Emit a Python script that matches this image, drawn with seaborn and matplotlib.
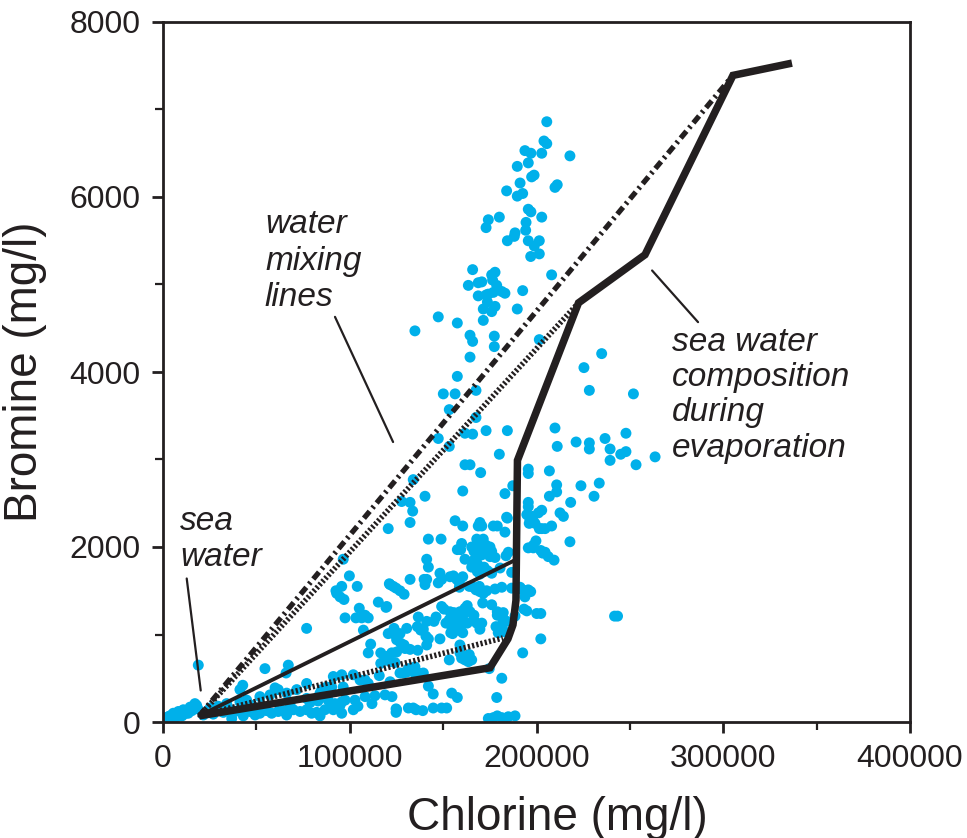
import matplotlib
matplotlib.use("Agg")
import matplotlib.pyplot as plt
import numpy as np
import pandas as pd
import seaborn as sns
from matplotlib.ticker import MultipleLocator

# ---------------- data (Cl, Br in mg/l) ----------------
upper_cl = [205500, 204000, 205500, 193800, 197000, 202800, 217900, 189700, 195600, 197400,
            198700, 191200, 184000, 209900, 211100, 189700, 192600, 195600, 197000, 202800,
            174200, 180100, 173000, 194400, 194200, 188500, 188100, 184400, 195600, 201500,
            198800, 196900, 201500, 208100, 165800, 163500, 168800, 170700, 176000, 177800,
            178700, 176500, 181400, 183100, 174200, 176900, 168800, 173000, 192600, 173700,
            171500, 176000, 177800, 189700]
upper_br = [6860, 6640, 6610, 6530, 6500, 6500, 6470, 6350, 6390, 6230,
            6250, 6160, 6070, 6110, 6140, 6010, 6040, 5860, 5830, 5770,
            5740, 5770, 5650, 5710, 5620, 5590, 5550, 5500, 5500, 5500,
            5440, 5320, 5350, 5110, 5170, 4990, 5020, 5030, 5110, 5140,
            4990, 5050, 4920, 4900, 4890, 4910, 4870, 4880, 4930, 4800,
            4720, 4690, 4750, 4720]

mid_cl = [147400, 157600, 134900, 171500, 164400, 165800, 177400, 177400, 201500, 164400,
          157600, 150100, 156400, 167600, 153300, 167600, 147400, 153300, 161700, 165800,
          173000, 184400, 180100, 161700, 164400, 170100, 160500, 140300, 134000, 183100,
          187300, 195600, 195600, 206900, 209900, 211100, 221200, 228300, 228300, 225400,
          228300, 234900, 251900, 236700, 247900, 239400, 239400, 245100, 247900, 253300,
          263500, 210800, 210800, 223800, 233600, 230800, 218300, 206900, 195600, 195600]
mid_br = [4630, 4560, 4470, 4590, 4420, 4350, 4410, 4290, 4370, 4170,
          3950, 3750, 3750, 3790, 3570, 3480, 3240, 3150, 3300, 3290,
          3330, 3330, 3060, 2940, 2940, 2850, 2640, 2580, 2770, 2610,
          2700, 2890, 2840, 2870, 3360, 3150, 3200, 3190, 3120, 4050,
          3790, 4210, 3750, 3240, 3300, 3120, 2990, 3060, 3090, 2940,
          3030, 2710, 2630, 2700, 2730, 2580, 2510, 2580, 2510, 2460]

dense_a_cl = [202800, 184400, 194800, 196500, 198300, 212600, 214400, 208100, 202800, 204600,
              199700, 217900, 169700, 176900, 179000, 183100, 171500, 175100, 195600, 198300,
              203300, 206300, 209400, 241800, 243400, 202300, 202300, 127800, 132300, 133700,
              132300, 156400, 160500, 120600, 142100, 148900, 168800, 170700, 184000, 198000,
              201000, 196100, 199200, 201500, 198300, 202300, 204600, 159900, 159400, 157600]
dense_a_br = [2420, 2330, 2370, 2310, 2290, 2390, 2350, 2240, 2210, 2210,
              2070, 2060, 2280, 2240, 2240, 2170, 2090, 2000, 1990, 1990,
              1930, 1890, 1850, 1210, 1210, 1240, 950, 2520, 2510, 2410,
              2280, 2300, 2240, 2210, 2090, 2090, 2240, 2240, 2340, 2350,
              2390, 2270, 2270, 2210, 2020, 1960, 1940, 2040, 1970, 1970]

dense_b_cl = [161700, 141200, 142100, 141200, 148300, 149200, 155500, 157300, 160500, 165300,
              166500, 168000, 169700, 173000, 174200, 176000, 177800, 175100, 169400, 170700,
              166500, 168300, 170100, 168300, 169700, 165300, 171900, 173700, 176000, 180500,
              183700, 184900, 186700, 121200, 123300, 124800, 126900, 129100, 119400, 132300,
              139800, 140300, 147400, 153700, 158700, 158700, 164000, 166200, 167600, 169400]
dense_b_br = [1860, 1860, 1770, 1630, 1700, 1630, 1670, 1630, 1660, 2000,
              1950, 2090, 2020, 2020, 1970, 1950, 1880, 1890, 1960, 1910,
              1850, 1810, 1770, 1720, 1690, 1770, 1770, 1730, 1700, 1760,
              1900, 1940, 1710, 1580, 1550, 1530, 1500, 1460, 1310, 1630,
              1630, 1570, 1590, 1660, 1590, 1540, 1550, 1540, 1510, 1550]

dense_c_cl = [169700, 171500, 173300, 177800, 181400, 186700, 191200, 192600, 195600, 193800,
              196900, 193300, 194800, 200100, 188500, 171200, 176000, 179000, 182200, 179000,
              181400, 182600, 184000, 181400, 178300, 179500, 183100, 149200, 150500, 153700,
              155800, 159000, 157300, 160500, 161700, 162900, 164400, 166500, 166200, 168000,
              170700, 169700, 162900, 160500, 159000, 157600, 156400, 153300, 151500, 154600]
dense_c_br = [1490, 1470, 1500, 1520, 1540, 1530, 1540, 1510, 1510, 1430,
              1490, 1290, 1270, 1240, 1210, 1360, 1340, 1260, 1250, 1220,
              1200, 1170, 1150, 1110, 1090, 1020, 1030, 1320, 1290, 1260,
              1250, 1260, 1210, 1210, 1300, 1330, 1260, 1220, 1170, 1130,
              1130, 1060, 1130, 1130, 1070, 1050, 1110, 1170, 1130, 1090]

dense_d_cl = [160500, 154100, 155100, 146200, 145100, 141200, 139400, 138000, 136700, 136200,
              140800, 142100, 141200, 148300, 120600, 123300, 125500, 123700, 125100, 127300,
              129100, 122500, 125100, 129600, 132300, 116600, 116600, 121600, 124200, 128700,
              134000, 136700, 139400, 132300, 159000, 159000, 159900, 161700, 163500, 165300,
              164000, 153300, 142100, 144700, 154600, 157600, 174700, 181400, 178700, 192600]
dense_d_br = [1020, 1020, 1010, 1200, 1150, 1150, 1060, 1050, 1200, 1090,
              980, 950, 880, 950, 1010, 1010, 1010, 1070, 940, 900,
              880, 790, 800, 840, 830, 790, 670, 690, 680, 560,
              575, 560, 560, 600, 880, 790, 730, 710, 690, 710,
              770, 710, 410, 320, 330, 280, 610, 500, 280, 790]

bottom_cl = [124800, 124800, 131400, 134000, 135500, 139100, 144700, 149200, 151900, 174200,
             176900, 179000, 181400, 182600, 184900, 188500, 101900, 95700, 84100, 125100]
bottom_br = [150, 110, 160, 160, 140, 130, 160, 160, 160, 40,
             50, 70, 50, 20, 60, 70, 140, 100, 70, 140]

left_cl = [99800, 95700, 92600, 94800, 96900, 104000, 115300, 105100, 108200, 109900,
           106400, 103300, 97500, 107300, 76900, 130500, 126900, 111200, 119800, 109900,
           126900, 130500, 134900, 134900, 136400, 105500, 18900, 54600, 67100, 65900,
           42700, 41200, 60000, 71600, 91200, 95700, 101900, 96500, 90300, 84100,
           76900, 108200, 109900, 115800, 121600, 131400, 96500, 93000, 119800, 121600]
left_br = [1670, 1550, 1500, 1430, 1400, 1550, 1370, 1300, 1220, 1190,
           1190, 1190, 1190, 1050, 1070, 1070, 1010, 890, 750, 790,
           560, 570, 630, 560, 820, 480, 650, 610, 650, 560,
           420, 370, 390, 370, 520, 540, 540, 400, 400, 330,
           270, 480, 440, 530, 460, 610, 1860, 1470, 1320, 1570]

seawater_cl = [200, 2800, 3700, 5500, 8200, 9100, 10900, 13500, 14500, 16200,
               17100, 18000, 1100, 2100, 4800, 7500, 10200, 12300, 15500, 18700]
seawater_br = [40, 60, 70, 100, 120, 80, 140, 100, 170, 170,
               210, 190, 20, 50, 30, 60, 70, 100, 130, 150]

band_cl = [21600, 26900, 32300, 36800, 38600, 43000, 46600, 49300, 51900, 55500,
           58200, 61700, 64400, 66200, 69800, 73400, 76900, 79600, 82300, 86700,
           89400, 91200, 94800, 95700, 97500, 34100, 41200, 44800, 51900, 57300,
           61700, 66200, 76900, 85000, 87700, 25200, 29500, 34800, 47700, 53000,
           68000, 78700, 83000, 92100, 102800, 108200, 113500, 118900, 122600, 111900,
           104400, 88400]
band_br = [80, 90, 110, 40, 120, 70, 120, 80, 100, 130,
           100, 120, 130, 80, 140, 120, 140, 100, 110, 140,
           170, 140, 190, 230, 250, 210, 230, 250, 290, 310,
           370, 330, 440, 370, 400, 160, 180, 160, 190, 180,
           210, 220, 240, 210, 250, 290, 300, 310, 290, 210,
           180, 250]

# sea water evaporation path
evap_cl = [19400, 175100, 184700, 187400, 189000, 189800, 222500, 258100, 305200, 336800]
evap_br = [70, 620, 950, 1110, 1390, 2990, 4790, 5340, 7390, 7530]

# mixing lines (sea water -> evaporated brines)
mix_dashdot_cl = [19400, 305200]
mix_dashdot_br = [70, 7390]
mix_dotted_cl = [19400, 222500]
mix_dotted_br = [70, 4790]
mix_thin_cl = [19400, 188500]
mix_thin_br = [70, 1850]
mix_dotted_low_cl = [19400, 182000]
mix_dotted_low_br = [70, 960]

x_ticks = [0, 100000, 200000, 300000, 400000]
x_tick_labels = ["0", "100000", "200000", "300000", "400000"]
y_ticks = [0, 2000, 4000, 6000, 8000]
y_tick_labels = ["0", "2000", "4000", "6000", "8000"]

# ---------------- style ----------------
sns.set_style("ticks")
plt.rcParams['font.family'] = ['Liberation Sans', 'DejaVu Sans']
ink = '#231f20'
cyan = '#00B0EA'

fig = plt.figure(figsize=(9.67, 8.38), dpi=100)
ax = fig.add_axes([163 / 967, 1 - 722 / 838, 747 / 967, 700 / 838])

cl = upper_cl + mid_cl + dense_a_cl + dense_b_cl + dense_c_cl + dense_d_cl + bottom_cl + left_cl + seawater_cl + band_cl
br = upper_br + mid_br + dense_a_br + dense_b_br + dense_c_br + dense_d_br + bottom_br + left_br + seawater_br + band_br
df = pd.DataFrame({"Chlorine": cl, "Bromine": br})

sns.scatterplot(data=df, x="Chlorine", y="Bromine", ax=ax, color=cyan, s=62,
                edgecolor="none", linewidth=0, zorder=2, legend=False)

ax.plot(mix_dashdot_cl, mix_dashdot_br, color=ink, linewidth=3.8,
        linestyle=(0, (1.7, 0.8, 0.45, 0.8)), zorder=4)
ax.plot(mix_dotted_cl, mix_dotted_br, color=ink, linewidth=4.0,
        linestyle=(0, (0.4, 0.38)), zorder=4)
ax.plot(mix_dotted_low_cl, mix_dotted_low_br, color=ink, linewidth=4.0,
        linestyle=(0, (0.4, 0.38)), zorder=4)
ax.plot(mix_thin_cl, mix_thin_br, color=ink, linewidth=2.8, zorder=4)
sns.lineplot(x=evap_cl, y=evap_br, sort=False, estimator=None, ax=ax, color=ink,
             linewidth=5.4, zorder=5)
for ln in ax.lines[-1:]:
    ln.set_solid_joinstyle('miter')
    ln.set_solid_capstyle('butt')

# leader lines for annotations
ax.plot([92100, 123200], [4630, 3200], color=ink, linewidth=1.6, zorder=4)
ax.plot([12700, 20200], [1640, 360], color=ink, linewidth=1.6, zorder=4)
ax.plot([261900, 286500], [5160, 4570], color=ink, linewidth=1.6, zorder=4)

ann = dict(fontsize=24, style='italic', color=ink, ha='left', va='baseline')
for txt, yy in zip(["water", "mixing", "lines"], [5590, 5166, 4754]):
    ax.text(54600, yy, txt, **ann)
for txt, yy in zip(["sea", "water"], [2194, 1783]):
    ax.text(9100, yy, txt, **ann)
for txt, yy in zip(["sea water", "composition", "during", "evaporation"], [4240, 3840, 3440, 3029]):
    ax.text(272600, yy, txt, **ann)

ax.set_xlim(0, 400000)
ax.set_ylim(0, 8000)
ax.set_xticks(x_ticks)
ax.set_xticklabels(x_tick_labels)
ax.set_yticks(y_ticks)
ax.set_yticklabels(y_tick_labels)
ax.xaxis.set_minor_locator(MultipleLocator(50000))
ax.yaxis.set_minor_locator(MultipleLocator(1000))
ax.tick_params(which='major', direction='out', length=8, width=2, labelsize=23,
               pad=8, color=ink, labelcolor=ink)
ax.tick_params(which='minor', direction='out', length=6, width=1.6, color=ink)
for sp in ax.spines.values():
    sp.set_visible(True)
    sp.set_color(ink)
    sp.set_linewidth(2)

ax.set_xlabel("Chlorine (mg/l)", fontsize=33, color=ink)
ax.set_ylabel("Bromine (mg/l)", fontsize=33, color=ink)
ax.xaxis.set_label_coords(0.528, -0.105)
ax.yaxis.set_label_coords(-0.155, 0.5)

fig.savefig("out.png", dpi=100)
